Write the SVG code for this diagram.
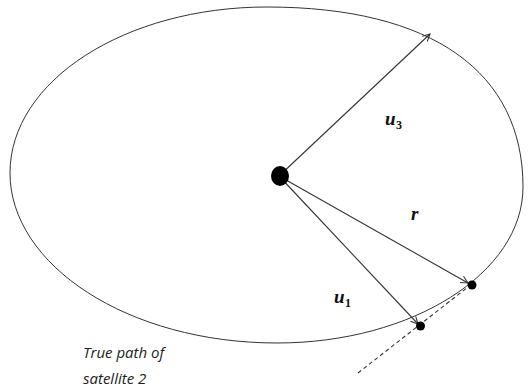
<svg xmlns="http://www.w3.org/2000/svg" width="528" height="387" viewBox="0 0 528 387">
<defs>
<style>
.orbit{fill:none;stroke:#333;stroke-width:1}
.vec{fill:none;stroke:#333;stroke-width:1.1}
.dash{fill:none;stroke:#333;stroke-width:1.1;stroke-dasharray:4 3}
.lbl{font-family:"Liberation Serif","DejaVu Serif",serif;font-weight:bold;font-style:italic;font-size:19px;fill:#111}
.sub{font-family:"Liberation Serif","DejaVu Serif",serif;font-weight:bold;font-size:12px;fill:#111}
.note{font-family:"Open Sans","Liberation Sans",sans-serif;font-style:italic;font-size:15px;fill:#222}
</style>
<marker id="arr" viewBox="0 0 10 10" refX="9" refY="5" markerWidth="9" markerHeight="9" markerUnits="userSpaceOnUse" orient="auto">
<path d="M1,1 L9,5 L1,9" fill="none" stroke="#333" stroke-width="1.2"/>
</marker>
</defs>
<g id="orbit">
<path class="orbit" d="M10,173 C10,81 125,7 267,7 C432,7 523,72 523,187 C523,273 412,343 277,343 C128,343 10,265 10,173 Z"/>
</g>
<g id="connectors">
<line class="vec" x1="279" y1="176" x2="430" y2="34" marker-end="url(#arr)"/>
<line class="vec" x1="279" y1="176" x2="468" y2="283" marker-end="url(#arr)"/>
<line class="vec" x1="279" y1="176" x2="418" y2="324" marker-end="url(#arr)"/>
<line class="dash" x1="358" y1="373" x2="468" y2="287"/>
</g>
<g id="earth"><ellipse cx="280" cy="176" rx="9" ry="10" fill="#000"/></g>
<g id="sat-r"><circle cx="472" cy="285" r="4.5" fill="#000"/></g>
<g id="sat-u1"><circle cx="420.5" cy="326" r="4.5" fill="#000"/></g>
<g id="label-u3"><text class="lbl" x="385" y="125">u</text><text class="sub" x="396" y="129">3</text></g>
<g id="label-u1"><text class="lbl" x="334" y="303">u</text><text class="sub" x="345" y="307">1</text></g>
<g id="label-r"><text class="lbl" x="411" y="220">r</text></g>
<g id="note"><text class="note" x="83" y="358">True path of</text><text class="note" x="83" y="384">satellite 2</text></g>
</svg>
